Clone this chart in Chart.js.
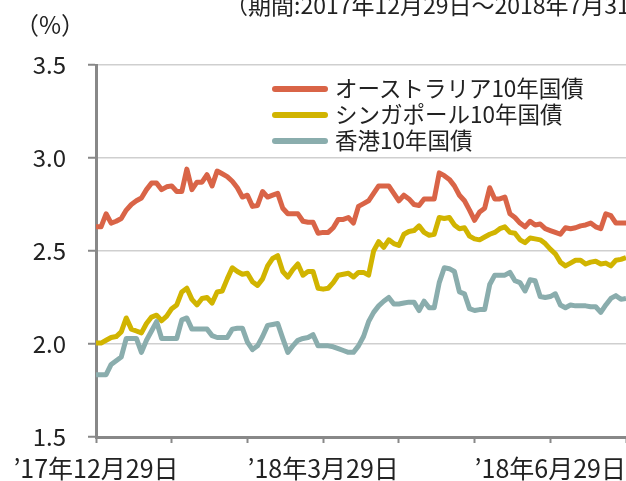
<!DOCTYPE html>
<html>
<head>
<meta charset="utf-8">
<script src="https://cdn.jsdelivr.net/npm/chart.js@4"></script>
<style>
  body { margin: 0; background: #fff; }
  #wrap { position: relative; width: 626px; height: 481px; overflow: hidden; font-family: "Noto Sans CJK JP", sans-serif; color: #222; }
  #chart { position: absolute; left: 0; top: 0; }
  .txt { position: absolute; white-space: nowrap; }
  #period { left: 225px; top: -7px; font-size: 23px; line-height: 23px; }
  #unit { left: 15px; top: 11px; font-size: 24px; line-height: 26px; }
  .leg { position: absolute; left: 272px; height: 28px; line-height: 28px; font-size: 22.5px; white-space: nowrap; }
  .leg i { display: inline-block; width: 56px; height: 6px; border-radius: 3px; vertical-align: middle; margin-right: 7px; position: relative; top: -2px; }
</style>
</head>
<body>
<div id="wrap">
  <canvas id="chart" width="626" height="481"></canvas>
  <div class="txt" id="period">（期間:2017年12月29日～2018年7月31日）</div>
  <div class="txt" id="unit">（%）</div>
  <div id="legend"></div>
</div>
<script>
// x axis: one point every ~1/15 month, ticks each month
const xTickPos = [0, 15, 30, 45, 60, 75, 90, 105];
const xTickLabels = ['’17年12月29日', '', '', '’18年3月29日', '', '', '’18年6月29日', ''];

const seriesNames = ['オーストラリア10年国債', 'シンガポール10年国債', '香港10年国債'];
const seriesColors = ['#D96447', '#D1B400', '#8AADAD'];

const australia = [
  2.63, 2.63, 2.70, 2.65, 2.66, 2.675, 2.72, 2.75, 2.77, 2.785,
  2.83, 2.865, 2.865, 2.83, 2.845, 2.85, 2.82, 2.82, 2.94, 2.83,
  2.87, 2.87, 2.91, 2.85, 2.93, 2.915, 2.90, 2.875, 2.84, 2.79,
  2.80, 2.74, 2.745, 2.82, 2.79, 2.80, 2.81, 2.73, 2.70, 2.70,
  2.70, 2.66, 2.655, 2.655, 2.595, 2.60, 2.60, 2.625, 2.67, 2.67,
  2.68, 2.65, 2.74, 2.755, 2.77, 2.81, 2.85, 2.85, 2.85, 2.81,
  2.77, 2.80, 2.78, 2.75, 2.745, 2.78, 2.78, 2.78, 2.92, 2.905,
  2.885, 2.85, 2.80, 2.77, 2.72, 2.665, 2.71, 2.73, 2.84, 2.78,
  2.78, 2.79, 2.70, 2.68, 2.65, 2.63, 2.66, 2.64, 2.645, 2.62,
  2.61, 2.60, 2.59, 2.625, 2.62, 2.625, 2.635, 2.64, 2.65, 2.63,
  2.62, 2.70, 2.69, 2.65, 2.65, 2.65
];

const singapore = [
  2.005, 2.005, 2.02, 2.035, 2.04, 2.065, 2.14, 2.08, 2.07, 2.06,
  2.11, 2.145, 2.155, 2.125, 2.15, 2.19, 2.21, 2.28, 2.30, 2.24,
  2.21, 2.245, 2.25, 2.22, 2.28, 2.285, 2.35, 2.41, 2.39, 2.375,
  2.38, 2.335, 2.315, 2.35, 2.42, 2.46, 2.475, 2.39, 2.36, 2.40,
  2.43, 2.37, 2.39, 2.39, 2.30, 2.295, 2.30, 2.33, 2.37, 2.375,
  2.38, 2.36, 2.385, 2.385, 2.37, 2.50, 2.55, 2.52, 2.56, 2.54,
  2.53, 2.59, 2.605, 2.61, 2.635, 2.60, 2.585, 2.59, 2.68, 2.675,
  2.68, 2.64, 2.62, 2.625, 2.58, 2.565, 2.56, 2.575, 2.59, 2.60,
  2.62, 2.63, 2.60, 2.595, 2.56, 2.545, 2.57, 2.565, 2.56, 2.54,
  2.51, 2.485, 2.44, 2.42, 2.435, 2.45, 2.45, 2.43, 2.44, 2.445,
  2.43, 2.435, 2.42, 2.45, 2.455, 2.465
];

const hongkong = [
  1.835, 1.835, 1.835, 1.89, 1.91, 1.93, 2.03, 2.03, 2.03, 1.955,
  2.02, 2.07, 2.12, 2.03, 2.03, 2.03, 2.03, 2.13, 2.14, 2.08,
  2.08, 2.08, 2.08, 2.045, 2.035, 2.035, 2.035, 2.08, 2.085, 2.085,
  2.01, 1.97, 1.99, 2.04, 2.10, 2.105, 2.11, 2.03, 1.955, 1.99,
  2.02, 2.03, 2.035, 2.05, 1.99, 1.99, 1.99, 1.985, 1.975, 1.965,
  1.955, 1.955, 1.99, 2.04, 2.12, 2.17, 2.205, 2.23, 2.25, 2.215,
  2.215, 2.22, 2.225, 2.225, 2.18, 2.23, 2.195, 2.195, 2.33, 2.41,
  2.405, 2.39, 2.28, 2.27, 2.19, 2.18, 2.185, 2.185, 2.32, 2.37,
  2.37, 2.37, 2.385, 2.34, 2.33, 2.285, 2.345, 2.34, 2.255, 2.25,
  2.255, 2.27, 2.21, 2.195, 2.21, 2.205, 2.205, 2.205, 2.20, 2.20,
  2.17, 2.21, 2.245, 2.26, 2.24, 2.245
];

const FONT = '"Noto Sans CJK JP", "Noto Sans", sans-serif';
const toPoints = arr => arr.map((v, i) => ({ x: i, y: v }));
const allSeries = [australia, singapore, hongkong];
const drawOrder = [1, 2, 0]; // Hong Kong on top

// legend (html)
const legendEl = document.getElementById('legend');
const legendTops = [73, 99, 125];
seriesNames.forEach((name, i) => {
  const row = document.createElement('div');
  row.className = 'leg';
  row.style.top = legendTops[i] + 'px';
  row.innerHTML = `<i style="background:${seriesColors[i]}"></i>${name}`;
  legendEl.appendChild(row);
});

new Chart(document.getElementById('chart').getContext('2d'), {
  type: 'line',
  data: {
    datasets: allSeries.map((arr, i) => ({
      label: seriesNames[i],
      data: toPoints(arr),
      borderColor: seriesColors[i],
      borderWidth: 5,
      pointRadius: 0,
      tension: 0,
      borderJoinStyle: 'round',
      borderCapStyle: 'butt',
      fill: false,
      order: drawOrder[i]
    }))
  },
  options: {
    responsive: false,
    animation: false,
    devicePixelRatio: 1,
    layout: { padding: { top: 65, right: 0, left: 0, bottom: 0 } },
    plugins: { legend: { display: false }, tooltip: { enabled: false } },
    scales: {
      x: {
        type: 'linear',
        min: 0,
        max: 105,
        afterFit: s => { s.height = 44; s.paddingLeft = 0; s.paddingRight = 0; },
        afterBuildTicks: s => { s.ticks = xTickPos.map(v => ({ value: v })); },
        ticks: {
          autoSkip: false,
          maxRotation: 0,
          padding: 10,
          color: '#222',
          font: { family: FONT, size: 25 },
          callback: v => xTickLabels[xTickPos.indexOf(v)] ?? ''
        },
        grid: { drawOnChartArea: false, tickColor: '#888', tickLength: 6, tickWidth: 2 },
        border: { color: '#888', width: 3 }
      },
      y: {
        min: 1.5,
        max: 3.5,
        afterFit: s => { s.width = 96; s.paddingTop = 0; s.paddingBottom = 0; },
        ticks: {
          stepSize: 0.5,
          padding: 22,
          color: '#222',
          font: { family: FONT, size: 24 },
          callback: v => v.toFixed(1)
        },
        grid: { color: '#cfcfcf', lineWidth: 1.5, tickColor: '#888', tickLength: 8, tickWidth: 2 },
        border: { color: '#888', width: 3 }
      }
    }
  }
});
</script>
</body>
</html>
